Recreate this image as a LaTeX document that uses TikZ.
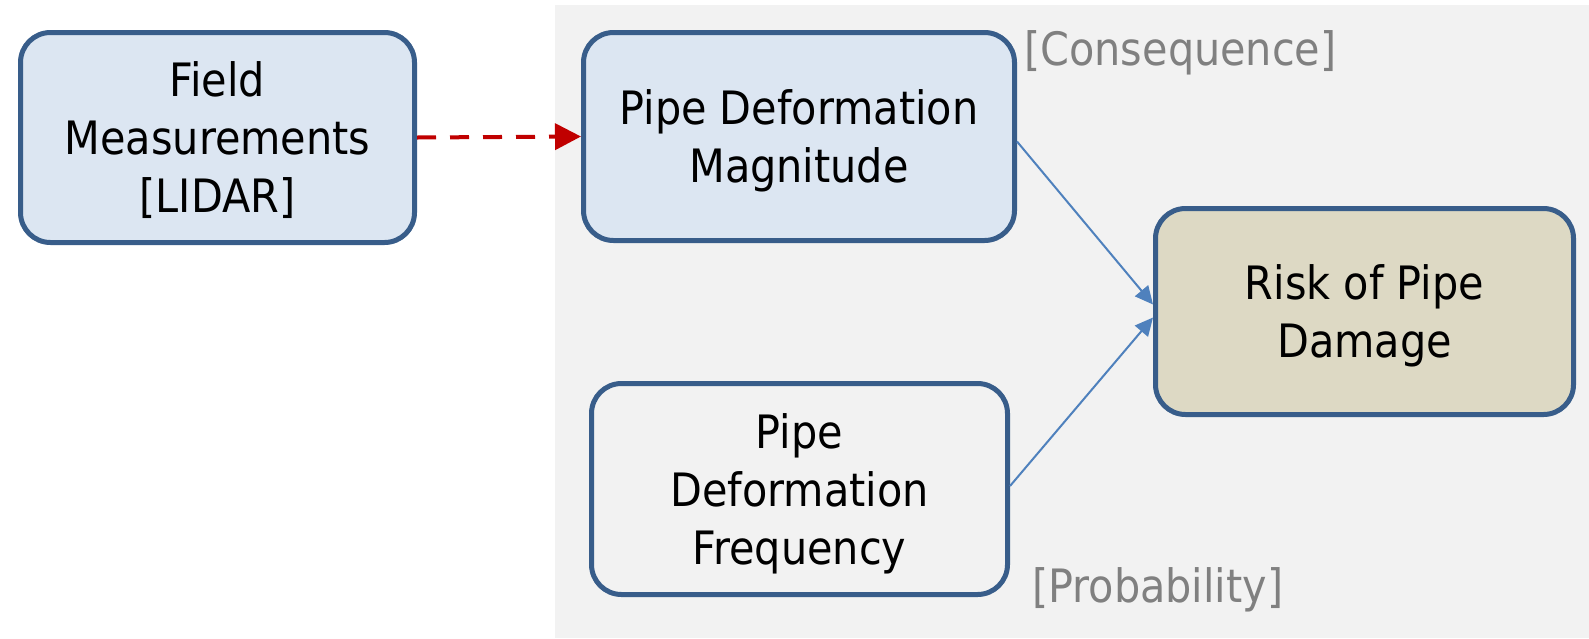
\documentclass[tikz,border=0pt]{standalone}
\usepackage{fontspec}
\setmainfont{DejaVu Sans Condensed}
\usetikzlibrary{arrows.meta,positioning,calc}
\definecolor{BoxBlue}   {HTML}{DCE6F2}
\definecolor{EdgeBlue}  {HTML}{385D8A}
\definecolor{LineBlue}  {HTML}{4F81BD}
\definecolor{RiskTan}   {HTML}{DDD9C4}
\definecolor{PanelGray} {HTML}{F2F2F2}
\definecolor{NoteGray}  {HTML}{808080}
\definecolor{DashRed}   {HTML}{C00000}
\tikzset{
  nbox/.style={rectangle,rounded corners=15pt,draw=EdgeBlue,line width=2.5pt,
               fill=#1,align=center,font=\fontsize{23}{29}\selectfont,
               inner sep=0pt,text depth=-1pt},
  note/.style={font=\fontsize{23}{29}\selectfont\color{NoteGray},inner sep=0pt},
  barr/.style={-{Triangle[length=9pt,width=8.5pt]},line width=1pt,color=LineBlue},
  darr/.style={-{Triangle[length=13pt,width=13pt]},line width=2pt,color=DashRed,
               dash pattern=on 9.5pt off 7pt},
}

\begin{document}
\begin{tikzpicture}[x=0.5pt,y=-0.5pt]

  \useasboundingbox[fill=white] (0,0) rectangle (1589,638);
  \fill[PanelGray] (555,5) rectangle (1589,638);

  \node[nbox=BoxBlue,minimum width=197pt,minimum height=105pt]
    (field) at (217.5,137.5) {Field\\Measurements\\{}[LIDAR]};
  \node[nbox=BoxBlue,minimum width=215.5pt,minimum height=104pt]
    (mag) at (799,136.5) {Pipe Deformation\\Magnitude};
  \node[nbox=PanelGray,minimum width=208pt,minimum height=105.5pt]
    (freq) at (799.5,489) {Pipe\\Deformation\\Frequency};
  \node[nbox=RiskTan,minimum width=209pt,minimum height=103pt]
    (risk) at (1364.5,311.5) {Risk of Pipe\\Damage};

  \node[note,anchor=base west] (cons) at (1024,65) {[Consequence]};
  \node[note,anchor=base west] (prob) at (1032,602) {[Probability]};

  \draw[darr] (field.east) -- (mag.west);
  \draw[barr] ($(mag.east)+(0,5)$) -- ($(risk.west)+(0,-7)$);
  \draw[barr] ($(freq.east)+(0,-3)$) -- ($(risk.west)+(0,6)$);

\end{tikzpicture}
\end{document}
